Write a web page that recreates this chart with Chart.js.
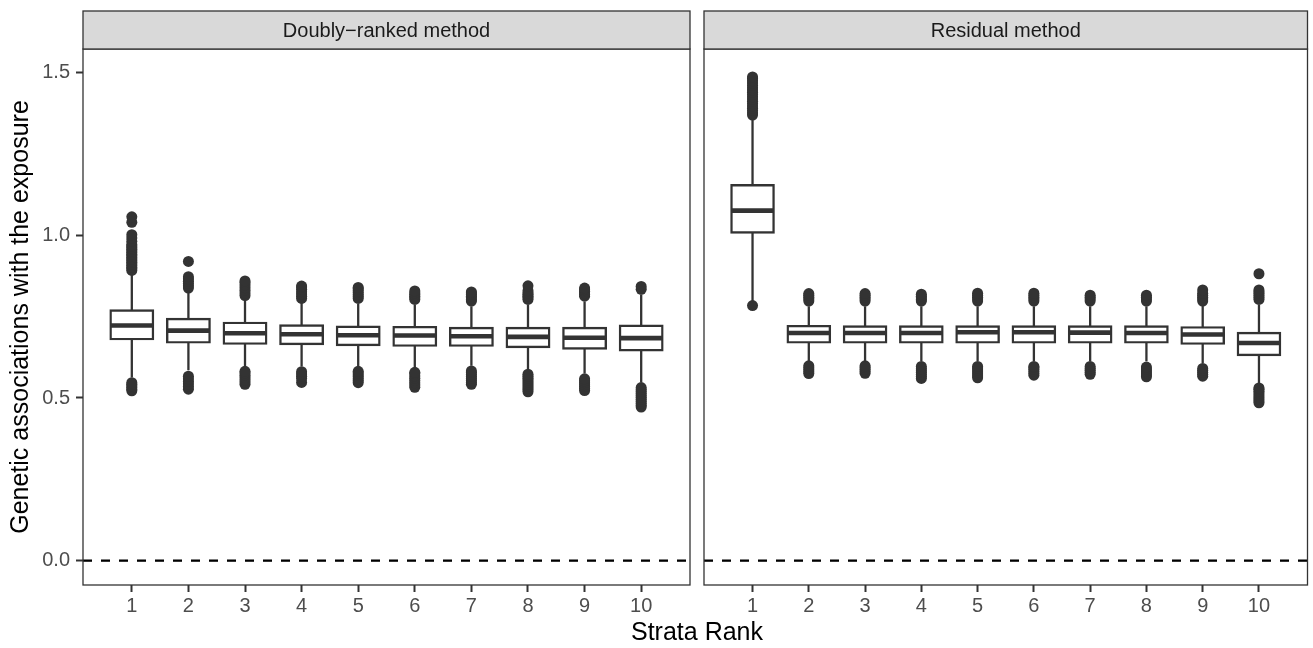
<!DOCTYPE html>
<html>
<head>
<meta charset="utf-8">
<script src="https://cdn.jsdelivr.net/npm/chart.js@4.4.1/dist/chart.umd.min.js"></script>
<style>
  html, body { margin: 0; padding: 0; background: #ffffff; }
  #wrap { position: relative; width: 1313px; height: 648px; overflow: hidden; background: #ffffff; }
  #wrap canvas { position: absolute; top: 0; }
  #xtitle {
    position: absolute; left: 83px; width: 1228px; top: 619px;
    text-align: center; color: #000000;
    font: 25px/25px 'Liberation Sans', Arial, sans-serif;
  }
</style>
</head>
<body>
<div id="wrap">
  <canvas id="left" width="697" height="648" style="left:0px"></canvas>
  <canvas id="right" width="616" height="648" style="left:697px"></canvas>
  <div id="xtitle"></div>
</div>
<script>
// ---- labels ----
const strata = [1, 2, 3, 4, 5, 6, 7, 8, 9, 10];
const yTicks = [0.0, 0.5, 1.0, 1.5];
const panelTitles = ['Doubly\u2212ranked method', 'Residual method'];
const yTitle = 'Genetic associations with the exposure';
const xTitle = 'Strata Rank';
const refLine = 0;

// ---- Doubly-ranked method: box statistics per stratum ----
const drQ1 = [0.681, 0.671, 0.667, 0.666, 0.663, 0.661, 0.661, 0.657, 0.652, 0.647];
const drMedian = [0.723, 0.707, 0.699, 0.696, 0.693, 0.692, 0.690, 0.688, 0.685, 0.684];
const drQ3 = [0.769, 0.743, 0.731, 0.723, 0.719, 0.718, 0.715, 0.715, 0.715, 0.722];
const drWhiskerLow = [0.563, 0.585, 0.597, 0.597, 0.597, 0.595, 0.599, 0.589, 0.575, 0.548];
const drWhiskerHigh = [0.885, 0.828, 0.802, 0.792, 0.790, 0.787, 0.782, 0.787, 0.797, 0.818];
const drOutliers = [
  [0.522, 0.527, 0.532, 0.537, 0.542, 0.547, 0.892, 0.897, 0.902, 0.907, 0.912, 0.917, 0.922, 0.927,
   0.932, 0.937, 0.942, 0.947, 0.952, 0.957, 0.962, 0.967, 0.972, 0.982, 0.992, 1.002, 1.040, 1.057],
  [0.527, 0.535, 0.543, 0.551, 0.559, 0.567, 0.838, 0.845, 0.852, 0.859, 0.866, 0.873, 0.920],
  [0.542, 0.549, 0.556, 0.563, 0.570, 0.577, 0.582, 0.815, 0.823, 0.831, 0.839, 0.847, 0.855, 0.860],
  [0.548, 0.560, 0.567, 0.574, 0.581, 0.806, 0.813, 0.820, 0.827, 0.834, 0.841, 0.844],
  [0.547, 0.553, 0.559, 0.565, 0.571, 0.577, 0.582, 0.806, 0.812, 0.818, 0.824, 0.830, 0.836, 0.840],
  [0.533, 0.540, 0.547, 0.554, 0.561, 0.568, 0.575, 0.579, 0.803, 0.808, 0.813, 0.818, 0.823, 0.829],
  [0.542, 0.548, 0.554, 0.560, 0.566, 0.572, 0.578, 0.583, 0.798, 0.803, 0.808, 0.813, 0.818, 0.823, 0.826],
  [0.519, 0.525, 0.531, 0.537, 0.543, 0.549, 0.555, 0.561, 0.567, 0.573,
   0.803, 0.808, 0.813, 0.818, 0.823, 0.830, 0.845],
  [0.523, 0.529, 0.535, 0.541, 0.547, 0.553, 0.559, 0.813, 0.818, 0.823, 0.828, 0.833, 0.838],
  [0.472, 0.478, 0.484, 0.490, 0.496, 0.502, 0.508, 0.514, 0.520, 0.526, 0.532, 0.834, 0.843]
];

// ---- Residual method: box statistics per stratum ----
const resQ1 = [1.009, 0.671, 0.671, 0.671, 0.671, 0.671, 0.671, 0.671, 0.667, 0.632];
const resMedian = [1.076, 0.700, 0.700, 0.700, 0.702, 0.702, 0.701, 0.700, 0.695, 0.669];
const resQ3 = [1.154, 0.721, 0.720, 0.720, 0.720, 0.720, 0.720, 0.720, 0.717, 0.700];
const resWhiskerLow = [0.795, 0.613, 0.613, 0.613, 0.613, 0.613, 0.613, 0.613, 0.607, 0.546];
const resWhiskerHigh = [1.361, 0.782, 0.782, 0.782, 0.782, 0.782, 0.782, 0.782, 0.785, 0.787];
const resOutliers = [
  [0.784, 1.370, 1.377, 1.384, 1.391, 1.398, 1.405, 1.412, 1.419, 1.426, 1.433, 1.440, 1.447,
   1.454, 1.461, 1.468, 1.475, 1.482, 1.487],
  [0.575, 0.581, 0.587, 0.593, 0.599, 0.798, 0.804, 0.810, 0.816, 0.821],
  [0.576, 0.582, 0.588, 0.594, 0.599, 0.798, 0.804, 0.810, 0.816, 0.821],
  [0.560, 0.566, 0.572, 0.578, 0.584, 0.590, 0.597, 0.798, 0.803, 0.808, 0.813, 0.819],
  [0.562, 0.568, 0.574, 0.580, 0.586, 0.592, 0.597, 0.798, 0.804, 0.810, 0.816, 0.822],
  [0.570, 0.576, 0.582, 0.588, 0.594, 0.597, 0.798, 0.804, 0.810, 0.816, 0.822],
  [0.573, 0.579, 0.585, 0.591, 0.597, 0.798, 0.804, 0.810, 0.816],
  [0.565, 0.571, 0.577, 0.583, 0.589, 0.595, 0.798, 0.804, 0.810, 0.816],
  [0.567, 0.573, 0.579, 0.585, 0.591, 0.798, 0.804, 0.810, 0.816, 0.822, 0.832],
  [0.485, 0.491, 0.497, 0.503, 0.509, 0.515, 0.521, 0.527, 0.531,
   0.803, 0.809, 0.815, 0.821, 0.827, 0.832, 0.882]
];

// ---- styling ----
const FONT = "'Liberation Sans', Arial, Helvetica, sans-serif";
const INK = '#333333';
const BOX_HALF = 0.375;               // half of the box width, in x units
const X_LO = strata[0] - BOX_HALF;
const X_HI = strata[strata.length - 1] + BOX_HALF;
const X_PAD = (X_HI - X_LO) * 0.05;
const Y_MIN = -0.0749;
const Y_MAX = 1.5729;

document.getElementById('xtitle').textContent = xTitle;

// Strip, panel frame, reference line and (optionally) the y title
const panelDecor = {
  id: 'panelDecor',
  beforeDatasetsDraw(chart, args, opts) {
    const { ctx, chartArea: a, scales: { y } } = chart;
    const py = y.getPixelForValue(refLine);
    ctx.save();
    ctx.strokeStyle = '#000000';
    ctx.lineWidth = 2.3;
    ctx.setLineDash([9, 9]);
    ctx.beginPath();
    ctx.moveTo(a.left, py);
    ctx.lineTo(a.right, py);
    ctx.stroke();
    ctx.restore();
  },
  afterDatasetsDraw(chart, args, opts) {
    const { ctx, chartArea: a } = chart;
    ctx.save();
    // panel frame
    ctx.strokeStyle = INK;
    ctx.lineWidth = 1.3;
    ctx.strokeRect(a.left, a.top, a.right - a.left, a.bottom - a.top);
    // facet strip
    const stripH = 38;
    ctx.fillStyle = '#D9D9D9';
    ctx.fillRect(a.left, a.top - stripH, a.right - a.left, stripH);
    ctx.lineWidth = 1.3;
    ctx.strokeRect(a.left, a.top - stripH, a.right - a.left, stripH);
    ctx.fillStyle = '#1A1A1A';
    ctx.font = '20px ' + FONT;
    ctx.textAlign = 'center';
    ctx.textBaseline = 'alphabetic';
    ctx.fillText(opts.title, (a.left + a.right) / 2, a.top - stripH / 2 + 7);
    // y-axis title
    if (opts.yTitle) {
      ctx.translate(28, (a.top + a.bottom) / 2);
      ctx.rotate(-Math.PI / 2);
      ctx.fillStyle = '#000000';
      ctx.font = '25px ' + FONT;
      ctx.textAlign = 'center';
      ctx.textBaseline = 'alphabetic';
      ctx.fillText(opts.yTitle, 0, 0);
    }
    ctx.restore();
  }
};

function buildDatasets(q1, med, q3, wLo, wHi, outl) {
  const boxes = strata.map((s, i) => ({ x: s, y: [q1[i], q3[i]] }));
  const whiskers = strata.flatMap((s, i) => [
    { x: s, y: q3[i] }, { x: s, y: wHi[i] }, { x: s, y: null },
    { x: s, y: q1[i] }, { x: s, y: wLo[i] }, { x: s, y: null }
  ]);
  const medians = strata.flatMap((s, i) => [
    { x: s - BOX_HALF, y: med[i] }, { x: s + BOX_HALF, y: med[i] }, { x: s, y: null }
  ]);
  const points = strata.flatMap((s, i) => outl[i].map(v => ({ x: s, y: v })));
  return [
    {
      type: 'scatter', data: points, order: 5,
      pointRadius: 5.5, pointBackgroundColor: INK, pointBorderWidth: 0, showLine: false
    },
    {
      type: 'line', data: whiskers, order: 4, spanGaps: false,
      borderColor: INK, borderWidth: 2.3, pointRadius: 0, borderCapStyle: 'butt', fill: false
    },
    {
      // box outline straddles the quartile edges, so the bar is inflated by half a stroke
      type: 'bar', data: boxes, order: 3,
      backgroundColor: '#ffffff', borderColor: INK, borderWidth: 2.4, borderSkipped: false,
      inflateAmount: 1.2,
      categoryPercentage: 1.0, barPercentage: 2 * BOX_HALF
    },
    {
      type: 'line', data: medians, order: 2, spanGaps: false,
      borderColor: INK, borderWidth: 4.6, pointRadius: 0, borderCapStyle: 'butt', fill: false
    }
  ];
}

function makeChart(canvasId, datasets, title, showY, padding) {
  return new Chart(document.getElementById(canvasId), {
    type: 'bar',
    data: { datasets },
    plugins: [panelDecor],
    options: {
      responsive: false,
      animation: false,
      devicePixelRatio: 1,
      events: [],
      layout: { padding },
      plugins: {
        legend: { display: false },
        tooltip: { enabled: false },
        panelDecor: { title, yTitle: showY ? yTitle : null }
      },
      scales: {
        x: {
          type: 'linear',
          min: X_LO - X_PAD,
          max: X_HI + X_PAD,
          offset: false,
          afterBuildTicks: (axis) => { axis.ticks = strata.map(v => ({ value: v })); },
          afterFit: (axis) => { axis.height = 63; },
          grid: {
            display: true, offset: false, drawOnChartArea: false, drawTicks: true,
            tickLength: 7, tickColor: INK, tickWidth: 2
          },
          border: { display: false },
          ticks: {
            color: '#4D4D4D', font: { family: FONT, size: 20 }, padding: 2,
            maxRotation: 0, autoSkip: false,
            callback: (v) => String(v)
          }
        },
        y: {
          type: 'linear',
          display: showY,
          min: Y_MIN,
          max: Y_MAX,
          afterBuildTicks: (axis) => { axis.ticks = yTicks.map(v => ({ value: v })); },
          afterFit: (axis) => { axis.width = showY ? 83 : 0; },
          grid: {
            display: true, drawOnChartArea: false, drawTicks: true,
            tickLength: 7, tickColor: INK, tickWidth: 2
          },
          border: { display: false },
          ticks: {
            color: '#4D4D4D', font: { family: FONT, size: 20 }, padding: 6,
            callback: (v) => Number(v).toFixed(1)
          }
        }
      }
    }
  });
}

makeChart('left',
  buildDatasets(drQ1, drMedian, drQ3, drWhiskerLow, drWhiskerHigh, drOutliers),
  panelTitles[0], true, { top: 49, right: 7, bottom: 0, left: 0 });

makeChart('right',
  buildDatasets(resQ1, resMedian, resQ3, resWhiskerLow, resWhiskerHigh, resOutliers),
  panelTitles[1], false, { top: 49, right: 2, bottom: 0, left: 7 });
</script>
</body>
</html>
